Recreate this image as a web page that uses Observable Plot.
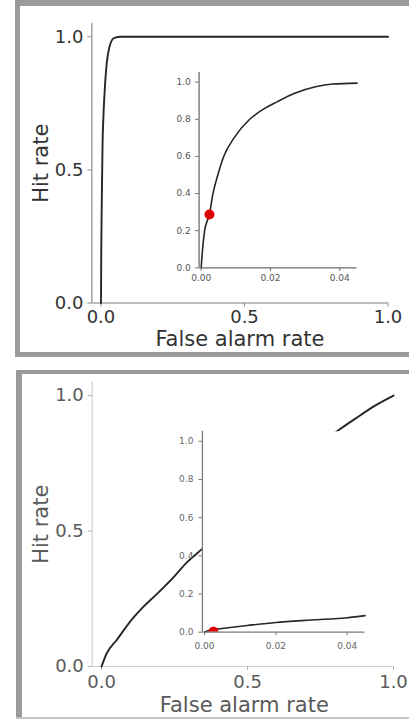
<!DOCTYPE html>
<html>
<head>
<meta charset="utf-8">
<script src="https://cdn.jsdelivr.net/npm/d3@7"></script>
<script src="https://cdn.jsdelivr.net/npm/@observablehq/plot@0.6"></script>
<style>
  html, body { margin: 0; padding: 0; background: #fff; }
  #root { position: relative; width: 409px; height: 719px; background: #fff; overflow: hidden; font-family: "DejaVu Sans", sans-serif; }
  .abs { position: absolute; }
  .bd { position: absolute; background: #9a9a9a; }
</style>
</head>
<body>
<div id="root">
  <div id="p1main" class="abs" style="left:0;top:0"></div>
  <div id="p1inset" class="abs" style="left:150px;top:60px"></div>
  <div id="p2main" class="abs" style="left:0;top:370px"></div>
  <div id="p2inset" class="abs" style="left:150px;top:420px"></div>
  <div class="bd" style="left:15px;top:0;width:394px;height:6px"></div>
  <div class="bd" style="left:15px;top:0;width:5px;height:357px"></div>
  <div class="bd" style="left:15px;top:352px;width:394px;height:5px"></div>
  <div class="bd" style="left:16px;top:370px;width:393px;height:3.5px"></div>
  <div class="bd" style="left:16px;top:370px;width:5.5px;height:349px"></div>
  <div class="bd" style="left:16px;top:717px;width:393px;height:2px;background:#c4c4c4"></div>
</div>
<script>
// ---- Data ----
const mainTicks = [0, 0.5, 1.0];
const insetYTicks = [0, 0.2, 0.4, 0.6, 0.8, 1.0];
const insetXTicks = [0, 0.02, 0.04];

// Top panel, main ROC
const topMainFar = [0, 0.001, 0.003, 0.0055, 0.0085, 0.013, 0.020, 0.029, 0.045, 0.070, 1.0];
const topMainHit = [0, 0.20, 0.40, 0.60, 0.70, 0.80, 0.90, 0.96, 0.995, 1.0, 1.0];
// Top panel, inset (zoomed ROC)
const topInsetFar = [0, 0.0003, 0.001, 0.0024, 0.0034, 0.0048, 0.0065, 0.0095, 0.014, 0.018, 0.022, 0.027, 0.033, 0.038, 0.045];
const topInsetHit = [0, 0.08, 0.20, 0.29, 0.40, 0.50, 0.60, 0.70, 0.80, 0.855, 0.895, 0.94, 0.975, 0.99, 0.995];
const topPointFar = [0.0024];
const topPointHit = [0.287];

// Bottom panel, main ROC
const botMainFar = [0, 0.017, 0.052, 0.109, 0.143, 0.190, 0.247, 0.293, 0.345, 0.81, 0.868, 0.937, 1.0];
const botMainHit = [0, 0.047, 0.098, 0.180, 0.220, 0.268, 0.330, 0.385, 0.434, 0.871, 0.914, 0.963, 1.0];
// Bottom panel, inset
const botInsetFar = [0, 0.001, 0.0025, 0.006, 0.012, 0.020, 0.030, 0.040, 0.045];
const botInsetHit = [0, 0.008, 0.014, 0.022, 0.035, 0.051, 0.064, 0.076, 0.087];
const botPointFar = [0.0025];
const botPointHit = [0.003];

const FONT = "DejaVu Sans";
const f1 = d3.format(".1f"), f2 = d3.format(".2f");

function mainPlot(opts) {
  const {far, hit, w, h, m, textColor, tickColor, spineColor, spineWidth, xPad, yPad, labDx, labDy, hitDx} = opts;
  return Plot.plot({
    width: w, height: h,
    marginLeft: m[0], marginRight: m[1], marginTop: m[2], marginBottom: m[3],
    style: {fontFamily: FONT, background: "transparent", overflow: "visible"},
    x: {domain: [-0.032, 1.0]},
    y: {domain: [0, 1.05]},
    marks: [
      Plot.ruleX([-0.032], {stroke: spineColor, strokeWidth: spineWidth}),
      Plot.ruleY([0], {stroke: spineColor, strokeWidth: spineWidth}),
      Plot.axisY({ticks: mainTicks, tickFormat: f1, tickSize: 4, tickPadding: yPad, fontSize: 18, stroke: tickColor, fill: textColor, label: null}),
      Plot.axisX({ticks: mainTicks, tickFormat: f1, tickSize: 4, tickPadding: xPad, fontSize: 18, stroke: tickColor, fill: textColor, label: null}),
      Plot.line(far, {x: far, y: hit, stroke: "#262626", strokeWidth: 1.9, curve: "monotone-x"}),
      Plot.text(["False alarm rate"], {frameAnchor: "bottom", dx: labDx, dy: labDy, lineAnchor: "middle", fontSize: 21, fill: textColor}),
      Plot.text(["Hit rate"], {frameAnchor: "left", dx: hitDx, rotate: -90, lineAnchor: "middle", textAnchor: "middle", fontSize: 21, fill: textColor})
    ]
  });
}

function insetPlot(opts) {
  const {far, hit, pf, ph, m, spineColor, textColor, xPad, yPad} = opts;
  return Plot.plot({
    width: 230, height: 240,
    marginLeft: m[0], marginRight: m[1], marginTop: m[2], marginBottom: m[3],
    style: {fontFamily: FONT, background: "transparent", overflow: "visible"},
    x: {domain: [-0.0006, 0.045]},
    y: {domain: [0, 1.052]},
    marks: [
      Plot.frame({fill: "white", stroke: null}),
      Plot.line(far, {x: far, y: hit, stroke: "#262626", strokeWidth: 1.6, curve: "monotone-x"}),
      Plot.dot(pf, {x: pf, y: ph, r: 5, fill: "#e00000", stroke: null, clip: true}),
      Plot.ruleX([-0.0006], {stroke: spineColor, strokeWidth: 1.3}),
      Plot.ruleY([0], {stroke: spineColor, strokeWidth: 1.3}),
      Plot.axisY({ticks: insetYTicks, tickFormat: f1, tickSize: 3.5, tickPadding: yPad, fontSize: 9, stroke: spineColor, fill: textColor, label: null}),
      Plot.axisX({ticks: insetXTicks, tickFormat: f2, tickSize: 3.5, tickPadding: xPad, fontSize: 9, stroke: spineColor, fill: textColor, label: null})
    ]
  });
}

document.getElementById("p1main").append(mainPlot({
  far: topMainFar, hit: topMainHit, w: 409, h: 357, m: [91.3, 21.5, 23, 54.5],
  textColor: "#333", tickColor: "#888", spineColor: "#a8a8a8", spineWidth: 1.6,
  xPad: 3.5, yPad: 4.3, labDx: 0, labDy: 36.5, hitDx: -50.3
}));
document.getElementById("p1inset").append(insetPlot({
  far: topInsetFar, hit: topInsetHit, pf: topPointFar, ph: topPointHit,
  m: [48.6, 23.4, 12, 32.7], spineColor: "#6e6e6e", textColor: "#555", xPad: 3, yPad: 4.8
}));
document.getElementById("p2main").append(mainPlot({
  far: botMainFar, hit: botMainHit, w: 409, h: 349, m: [91.7, 16, 11.5, 53],
  textColor: "#5a5a5a", tickColor: "#b0b0b0", spineColor: "#cfcfcf", spineWidth: 1.2,
  xPad: 5, yPad: 4.4, labDx: 1.5, labDy: 39, hitDx: -50.7
}));
document.getElementById("p2inset").append(insetPlot({
  far: botInsetFar, hit: botInsetHit, pf: botPointFar, ph: botPointHit,
  m: [51.9, 15.5, 10.8, 28.3], spineColor: "#7a7a7a", textColor: "#666", xPad: 7, yPad: 5.5
}));
</script>
</body>
</html>
